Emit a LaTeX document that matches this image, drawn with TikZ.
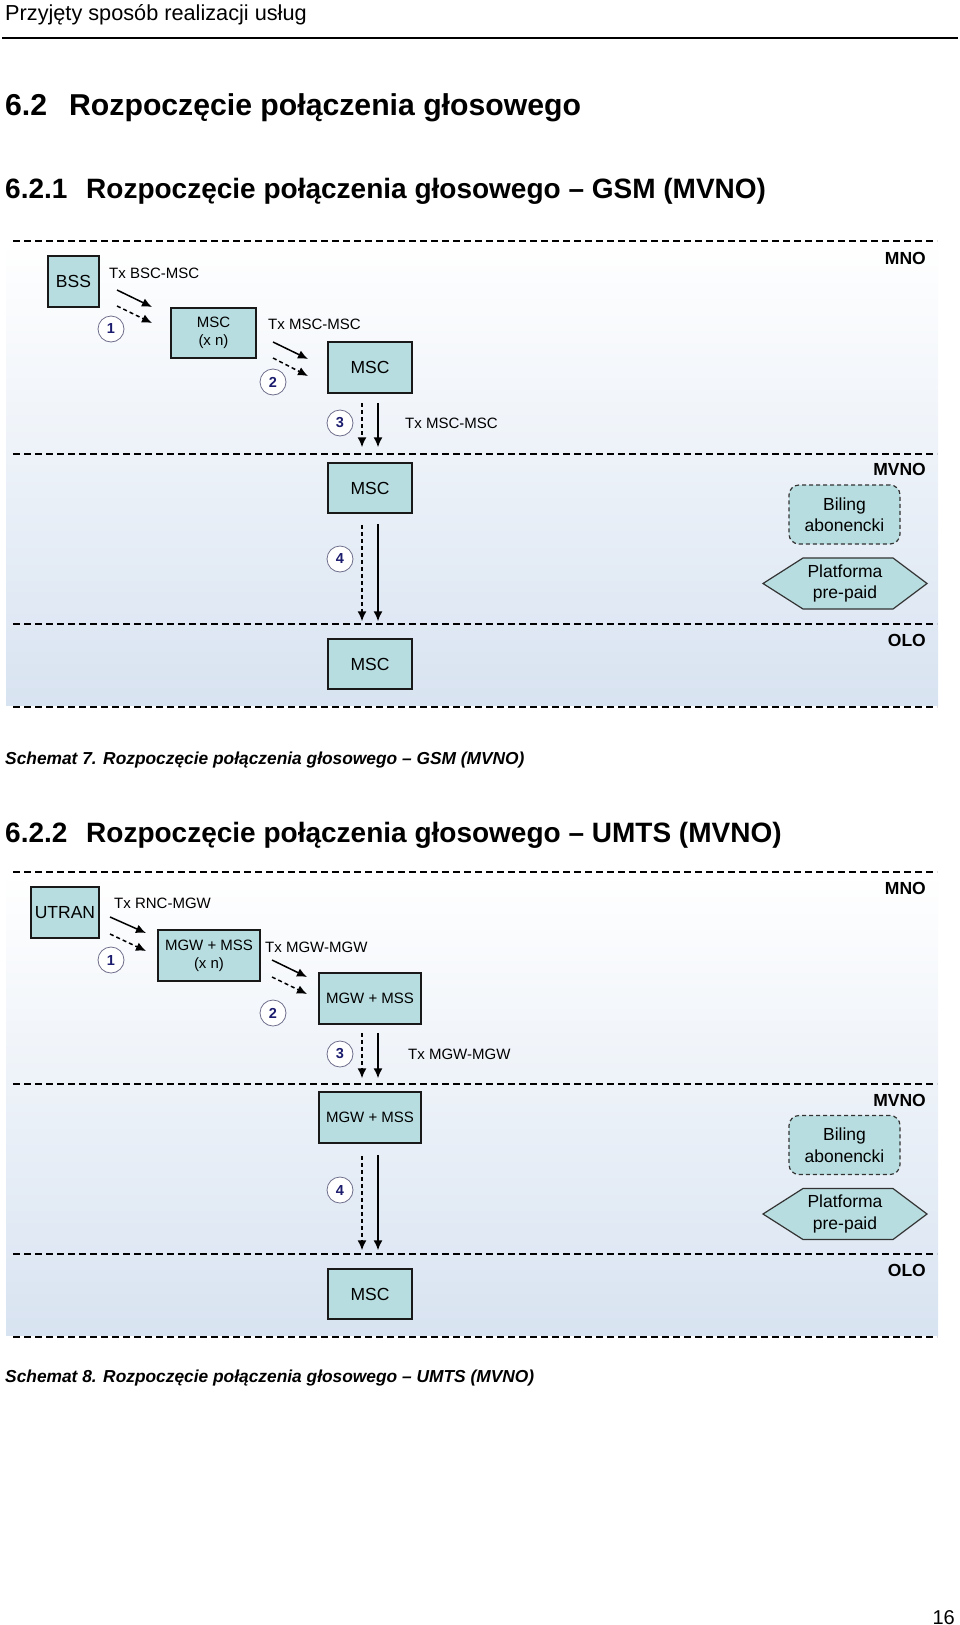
\documentclass[tikz,border=0pt]{standalone}
\usepackage{fontspec}
\setmainfont{Liberation Sans}
\usepackage{xcolor}
\usepackage{tikz}
\usetikzlibrary{positioning,arrows.meta}

\definecolor{boxfill}{RGB}{184,221,224}
\definecolor{bgblue}{RGB}{216,227,241}
\definecolor{numblue}{RGB}{28,28,110}
\definecolor{circline}{RGB}{110,110,140}

\newcommand{\boxfont}{\fontsize{17.5}{21.5}\selectfont}
\newcommand{\txfont}{\fontsize{15}{18}\selectfont}
\newcommand{\numfont}{\fontsize{14.5}{16}\selectfont\bfseries}
\newcommand{\hdfont}{\fontsize{30.2}{34}\selectfont\bfseries}
\newcommand{\subhdfont}{\fontsize{28}{32}\selectfont\bfseries}
\newcommand{\capfont}{\fontsize{17.35}{20}\selectfont\bfseries\itshape}

\begin{document}
\begin{tikzpicture}[x=1pt, y=-1pt, >={Latex[length=10pt,width=9pt]},
  netbox/.style={draw=black!90, line width=1.5pt, fill=boxfill, align=center, inner sep=0pt, font=\boxfont},
  numcirc/.style={circle, draw=circline, fill=white, line width=0.8pt, minimum size=26pt, inner sep=0pt, font=\numfont, text=numblue},
  sepline/.style={line width=1.2pt, dash pattern=on 7pt off 4pt},
  txlabel/.style={anchor=west, inner sep=0pt, font=\txfont},
  oplabel/.style={anchor=east, inner sep=0pt, font=\boxfont\bfseries},
  flow/.style={->, line width=1.5pt},
  flowdash/.style={->, line width=1.5pt, dash pattern=on 4pt off 3pt},
  billbox/.style={draw=black!80, line width=1.2pt, dash pattern=on 4pt off 3pt, rounded corners=10pt, fill=boxfill, align=center, minimum width=111pt, minimum height=59pt, font=\boxfont},
  prepaid/.style={align=center, inner sep=0pt, font=\boxfont},
  hexa/.style={fill=boxfill, draw=black!80, line width=1.2pt},
  heading/.style={anchor=base west, inner sep=0pt}]
\useasboundingbox (0,0) rectangle (960,1625);
\fill[white] (0,0) rectangle (960,1625);

% page head
\node[heading, font=\fontsize{21.7}{24}\selectfont] (runhead) at (5,20) {Przyjęty sposób realizacji usług};
\draw[line width=1.6pt] (2,38) -- (958,38);
\node[heading, font=\hdfont] (sec) at (5,115) {\makebox[64pt][l]{6.2}Rozpoczęcie połączenia głosowego};
\node[heading, font=\subhdfont] (subgsm) at (5,198) {\makebox[81pt][l]{6.2.1}Rozpoczęcie połączenia głosowego – GSM (MVNO)};

% GSM
\shade[top color=white, bottom color=bgblue] (6,241) rectangle (938,705);
\draw[sepline] (13,241) -- (937,241);
\draw[sepline] (13,454) -- (937,454);
\draw[sepline] (13,624) -- (937,624);
\draw[sepline] (13,707) -- (937,707);
\node[oplabel] (gmno) at (926,258) {MNO};
\node[oplabel] (gmvno) at (926,469) {MVNO};
\node[oplabel] (golo) at (926,640) {OLO};

\node[netbox, minimum width=51pt, minimum height=51pt] (bss) at (73.5,281.5) {BSS};
\node[netbox, minimum width=85pt, minimum height=50pt, font=\txfont] (gmscn) at (213.5,333) {MSC\\(x n)};
\node[netbox, minimum width=84pt, minimum height=51pt] (gmsca) at (370,367.5) {MSC};
\node[netbox, minimum width=84pt, minimum height=50pt] (gmscb) at (370,488) {MSC};
\node[netbox, minimum width=84pt, minimum height=50pt] (gmscc) at (370,664) {MSC};
\node[billbox] (gbil) at (844.5,514.5) {Biling\\abonencki};
\filldraw[hexa] (763,583.5) -- (803,558) -- (893,558) -- (927,583.5) -- (893,609) -- (803,609) -- cycle;
\node[prepaid] (gpre) at (845,583.5) {Platforma\\pre-paid};

\node[txlabel] (gtx1) at (109,273) {Tx BSC-MSC};
\node[txlabel] (gtx2) at (268,324) {Tx MSC-MSC};
\node[txlabel] (gtx3) at (405,423) {Tx MSC-MSC};

\coordinate (g1a) at (117,290);
\coordinate (g1b) at (152,307);
\coordinate (g1c) at (117,306);
\coordinate (g1d) at (152,323);
\coordinate (g2a) at (273,342);
\coordinate (g2b) at (308,359);
\coordinate (g2c) at (273,358);
\coordinate (g2d) at (308,376);
\draw[flow] (g1a) -- (g1b);
\draw[flowdash] (g1c) -- (g1d);
\draw[flow] (g2a) -- (g2b);
\draw[flowdash] (g2c) -- (g2d);
\draw[flowdash, shorten <=9.5pt, shorten >=15pt] ([xshift=-8pt]gmsca.south) -- ([xshift=-8pt]gmscb.north);
\draw[flow, shorten <=9pt, shorten >=15pt] ([xshift=8pt]gmsca.south) -- ([xshift=8pt]gmscb.north);
\draw[flowdash, shorten <=11pt, shorten >=17pt] ([xshift=-8pt]gmscb.south) -- ([xshift=-8pt]gmscc.north);
\draw[flow, shorten <=10pt, shorten >=17pt] ([xshift=8pt]gmscb.south) -- ([xshift=8pt]gmscc.north);

\node[numcirc] (gn1) at (111,329) {1};
\node[numcirc] (gn2) at (273,382) {2};
\node[numcirc] (gn3) at (340,423) {3};
\node[numcirc] (gn4) at (340,559) {4};

\node[heading, font=\capfont] (capgsm) at (5,764) {Schemat 7. Rozpoczęcie połączenia głosowego – GSM (MVNO)};

% UMTS
\node[heading, font=\subhdfont] (subumts) at (5,842) {\makebox[81pt][l]{6.2.2}Rozpoczęcie połączenia głosowego – UMTS (MVNO)};
\shade[top color=white, bottom color=bgblue] (6,872) rectangle (938,1335);
\draw[sepline] (13,872) -- (937,872);
\draw[sepline] (13,1084) -- (937,1084);
\draw[sepline] (13,1254) -- (937,1254);
\draw[sepline] (13,1337) -- (937,1337);
\node[oplabel] (umno) at (926,888) {MNO};
\node[oplabel] (umvno) at (926,1100) {MVNO};
\node[oplabel] (uolo) at (926,1270) {OLO};

\node[netbox, minimum width=68pt, minimum height=51pt] (utran) at (65,912.5) {UTRAN};
\node[netbox, minimum width=102pt, minimum height=51pt, font=\txfont] (umgwn) at (209,955.5) {MGW + MSS\\(x n)};
\node[netbox, minimum width=102pt, minimum height=51pt, font=\txfont] (umgwa) at (370,998.5) {MGW + MSS};
\node[netbox, minimum width=102pt, minimum height=51pt, font=\txfont] (umgwb) at (370,1117.5) {MGW + MSS};
\node[netbox, minimum width=84pt, minimum height=50pt] (umsc) at (370,1294) {MSC};
\node[billbox] (ubil) at (844.5,1145) {Biling\\abonencki};
\filldraw[hexa] (763,1214) -- (803,1188.5) -- (893,1188.5) -- (927,1214) -- (893,1239.5) -- (803,1239.5) -- cycle;
\node[prepaid] (upre) at (845,1214) {Platforma\\pre-paid};

\node[txlabel] (utx1) at (114,903) {Tx RNC-MGW};
\node[txlabel] (utx2) at (265,947) {Tx MGW-MGW};
\node[txlabel] (utx3) at (408,1054) {Tx MGW-MGW};

\coordinate (u1a) at (110,917);
\coordinate (u1b) at (146,933);
\coordinate (u1c) at (110,934);
\coordinate (u1d) at (146,951);
\coordinate (u2a) at (272,960);
\coordinate (u2b) at (307,977);
\coordinate (u2c) at (272,977);
\coordinate (u2d) at (307,994);
\draw[flow] (u1a) -- (u1b);
\draw[flowdash] (u1c) -- (u1d);
\draw[flow] (u2a) -- (u2b);
\draw[flowdash] (u2c) -- (u2d);
\draw[flowdash, shorten <=8pt, shorten >=13pt] ([xshift=-8pt]umgwa.south) -- ([xshift=-8pt]umgwb.north);
\draw[flow, shorten <=8pt, shorten >=13pt] ([xshift=8pt]umgwa.south) -- ([xshift=8pt]umgwb.north);
\draw[flowdash, shorten <=12pt, shorten >=18pt] ([xshift=-8pt]umgwb.south) -- ([xshift=-8pt]umsc.north);
\draw[flow, shorten <=11pt, shorten >=18pt] ([xshift=8pt]umgwb.south) -- ([xshift=8pt]umsc.north);

\node[numcirc] (un1) at (111,960) {1};
\node[numcirc] (un2) at (273,1013) {2};
\node[numcirc] (un3) at (340,1054) {3};
\node[numcirc] (un4) at (340,1190) {4};

\node[heading, font=\capfont] (capumts) at (5,1382) {Schemat 8. Rozpoczęcie połączenia głosowego – UMTS (MVNO)};

\node[anchor=base east, inner sep=0pt, font=\fontsize{20}{24}\selectfont] (pagenum) at (955,1624) {16};
\end{tikzpicture}
\end{document}
